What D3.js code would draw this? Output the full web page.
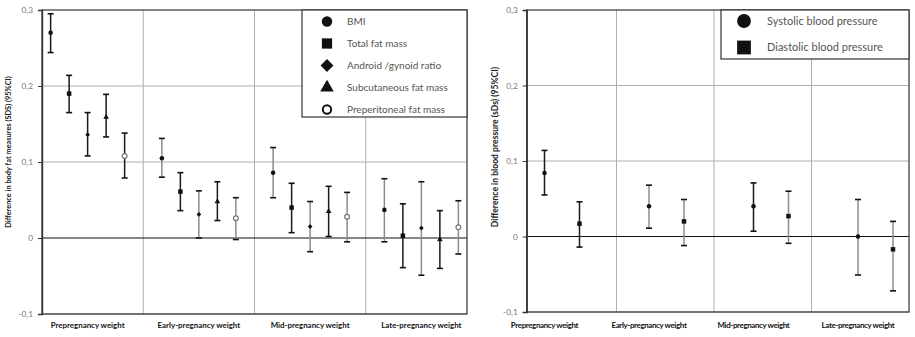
<!DOCTYPE html>
<html>
<head>
<meta charset="utf-8">
<script src="https://cdn.jsdelivr.net/npm/d3@7"></script>
<style>
  body { margin: 0; background: #fff; }
  svg { display: block; font-family: Lato, "Open Sans", sans-serif; }
</style>
</head>
<body>
<svg id="chart" width="915" height="337"></svg>
<script>
// ---- data ---------------------------------------------------------------
const periods = ["Prepregnancy weight", "Early-pregnancy weight", "Mid-pregnancy weight", "Late-pregnancy weight"];
const yTicks = [-0.1, 0, 0.1, 0.2, 0.3];
const yTickLabels = ["-0,1", "0", "0,1", "0,2", "0,3"];

// each row: [estimate, lower 95% CI, upper 95% CI], one row per period
const fatSeries = ["BMI", "Total fat mass", "Android /gynoid  ratio", "Subcutaneous fat mass", "Preperitoneal fat mass"];
const bmi           = [[0.270, 0.244, 0.295], [0.105, 0.080, 0.131], [0.086, 0.053, 0.119], [0.037, -0.005, 0.078]];
const totalFat      = [[0.190, 0.165, 0.214], [0.061, 0.036, 0.086], [0.040, 0.007, 0.072], [0.003, -0.039, 0.045]];
const androidGynoid = [[0.136, 0.108, 0.165], [0.031, 0.000, 0.062], [0.015, -0.018, 0.048], [0.013, -0.049, 0.074]];
const subcutaneous  = [[0.159, 0.133, 0.189], [0.048, 0.023, 0.074], [0.035, 0.002, 0.068], [-0.002, -0.040, 0.036]];
const preperitoneal = [[0.108, 0.079, 0.138], [0.026, -0.002, 0.053], [0.028, -0.005, 0.060], [0.014, -0.021, 0.049]];

const bpSeries = ["Systolic blood pressure", "Diastolic blood pressure"];
const systolic  = [[0.084, 0.055, 0.114], [0.040, 0.011, 0.068], [0.040, 0.007, 0.071], [0.000, -0.051, 0.049]];
const diastolic = [[0.017, -0.014, 0.046], [0.020, -0.012, 0.049], [0.027, -0.009, 0.060], [-0.017, -0.072, 0.020]];

// ---- drawing ------------------------------------------------------------
const svg = d3.select("#chart");
svg.append("rect").attr("width", 915).attr("height", 337).attr("fill", "#fff");

const diamond = d3.symbolDiamond2 || d3.symbolDiamond;

function panel(cfg) {
  const g = svg.append("g");
  const y = d3.scaleLinear().domain([-0.1, 0.3]).range([cfg.bottom, cfg.top]);
  const slots = d3.scaleBand().domain(periods).range(cfg.slotRange);
  const pos = d3.scalePoint().domain(periods).range(cfg.pointRange);
  const offset = d3.scalePoint().domain(cfg.series.map(s => s.name)).range(cfg.offsetRange);

  // horizontal gridlines
  g.selectAll(".hg").data(yTicks.filter(t => t !== 0 && t !== 0.3)).join("line")
    .attr("x1", cfg.left).attr("x2", cfg.right)
    .attr("y1", d => y(d)).attr("y2", d => y(d))
    .attr("stroke", "#b0b0b0").attr("stroke-width", 1);

  // vertical gridlines between periods
  g.selectAll(".vg").data(periods.slice(1)).join("line")
    .attr("x1", d => slots(d)).attr("x2", d => slots(d))
    .attr("y1", cfg.top).attr("y2", cfg.bottom)
    .attr("stroke", "#b0b0b0").attr("stroke-width", 1);

  // zero line
  g.append("line").attr("x1", cfg.left).attr("x2", cfg.right)
    .attr("y1", y(0)).attr("y2", y(0)).attr("stroke", "#111").attr("stroke-width", 1.1);

  // frame
  g.append("rect").attr("x", cfg.left).attr("y", cfg.top)
    .attr("width", cfg.right - cfg.left).attr("height", cfg.bottom - cfg.top)
    .attr("fill", "none").attr("stroke", "#333").attr("stroke-width", 1.2);

  // y axis
  const ax = g.append("g").attr("transform", `translate(${cfg.left},0)`)
    .call(d3.axisLeft(y).tickValues(yTicks).tickSize(4).tickPadding(5)
      .tickFormat((d, i) => yTickLabels[i]));
  ax.select(".domain").attr("stroke", "#333").attr("stroke-width", 1.4);
  ax.selectAll(".tick line").attr("stroke", "#333");
  ax.selectAll(".tick text").attr("fill", "#777").attr("font-size", 8.3).attr("font-family", "Lato, sans-serif");

  // y title
  g.append("text")
    .attr("transform", `translate(${cfg.titleX},${cfg.titleY}) rotate(-90)`)
    .attr("text-anchor", "middle").attr("font-size", cfg.titleSize).attr("font-weight", 700)
    .attr("fill", "#222").text(cfg.title);

  // category labels
  g.selectAll(".cat").data(periods).join("text")
    .attr("x", d => cfg.labelAtPoint ? pos(d) : slots(d) + slots.bandwidth() / 2)
    .attr("y", 328).attr("text-anchor", "middle")
    .attr("font-size", 7.9).attr("font-weight", 700).attr("fill", "#111")
    .attr("letter-spacing", cfg.labelSpacing)
    .text(d => d);

  // estimates with confidence intervals
  cfg.series.forEach((s, si) => {
    const sg = g.append("g");
    s.values.forEach((v, pi) => {
      const cx = (cfg.labelAtPoint ? pos(periods[pi]) : slots(periods[pi]) + slots.bandwidth() / 2) + offset(s.name);
      const shade = cfg.barShade(si, pi);
      sg.append("line").attr("x1", cx).attr("x2", cx)
        .attr("y1", y(v[1])).attr("y2", y(v[2]))
        .attr("stroke", shade).attr("stroke-width", 1.5);
      [v[1], v[2]].forEach(e => {
        sg.append("line").attr("x1", cx - 3).attr("x2", cx + 3)
          .attr("y1", y(e)).attr("y2", y(e))
          .attr("stroke", "#111").attr("stroke-width", 1.6);
      });
      sg.append("path")
        .attr("transform", `translate(${cx},${y(v[0])})`)
        .attr("d", d3.symbol().type(s.symbol).size(s.size)())
        .attr("fill", s.open ? "#fff" : "#111")
        .attr("stroke", s.open ? "#777" : "none")
        .attr("stroke-width", s.open ? 1.2 : 0);
    });
  });

  // legend
  const L = cfg.legend;
  g.append("rect").attr("x", L.x).attr("y", L.y).attr("width", L.w).attr("height", L.h)
    .attr("fill", "#fff").attr("stroke", "#333").attr("stroke-width", 1.2);
  cfg.series.forEach((s, i) => {
    const ry = L.y + L.first + i * L.step;
    g.append("path")
      .attr("transform", `translate(${L.x + L.markX},${ry})`)
      .attr("d", d3.symbol().type(s.symbol).size(s.legendSize)())
      .attr("fill", s.open ? "#fff" : "#111")
      .attr("stroke", s.open ? "#111" : "none")
      .attr("stroke-width", s.open ? 2 : 0);
    g.append("text").attr("x", L.x + L.textX).attr("y", ry).attr("dy", "0.35em")
      .attr("font-size", L.font).attr("fill", "#555").text(s.name);
  });
}

const grey = "#8c8c8c", dark = "#1a1a1a";

panel({
  left: 42, right: 467, top: 10, bottom: 314,
  slotRange: [32, 477], pointRange: [88, 421], offsetRange: [-37, 37],
  labelAtPoint: false, labelSpacing: 0,
  title: "Difference in body  fat  measures  (SDS)  (95%CI)",
  titleX: 11, titleY: 152, titleSize: 7.4,
  series: [
    { name: fatSeries[0], values: bmi,           symbol: d3.symbolCircle,   size: 16, legendSize: 85 },
    { name: fatSeries[1], values: totalFat,      symbol: d3.symbolSquare,   size: 20, legendSize: 105 },
    { name: fatSeries[2], values: androidGynoid, symbol: diamond,           size: 14, legendSize: 105 },
    { name: fatSeries[3], values: subcutaneous,  symbol: d3.symbolTriangle, size: 14, legendSize: 80 },
    { name: fatSeries[4], values: preperitoneal, symbol: d3.symbolCircle,   size: 18, legendSize: 55, open: true }
  ],
  barShade: (si, pi) => (si === 1 || si === 3 || pi === 0) ? dark : grey,
  legend: { x: 302, y: 10, w: 165, h: 107, first: 11.5, step: 22, markX: 25, textX: 45, font: 10 }
});

panel({
  left: 526.7, right: 909, top: 10, bottom: 312,
  slotRange: [519, 909], pointRange: [544.5, 858], offsetRange: [0, 35],
  labelAtPoint: true, labelSpacing: -0.35,
  title: "Difference in blood pressure (sDs) (95%CI)",
  titleX: 498, titleY: 147, titleSize: 8.6,
  series: [
    { name: bpSeries[0], values: systolic,  symbol: d3.symbolCircle, size: 16, legendSize: 150 },
    { name: bpSeries[1], values: diastolic, symbol: d3.symbolSquare, size: 20, legendSize: 190 }
  ],
  barShade: (si, pi) => (pi === 0 || (pi === 2 && si === 0)) ? dark : grey,
  legend: { x: 721, y: 10, w: 188, h: 49, first: 11, step: 26.5, markX: 23, textX: 46, font: 11 }
});
</script>
</body>
</html>
